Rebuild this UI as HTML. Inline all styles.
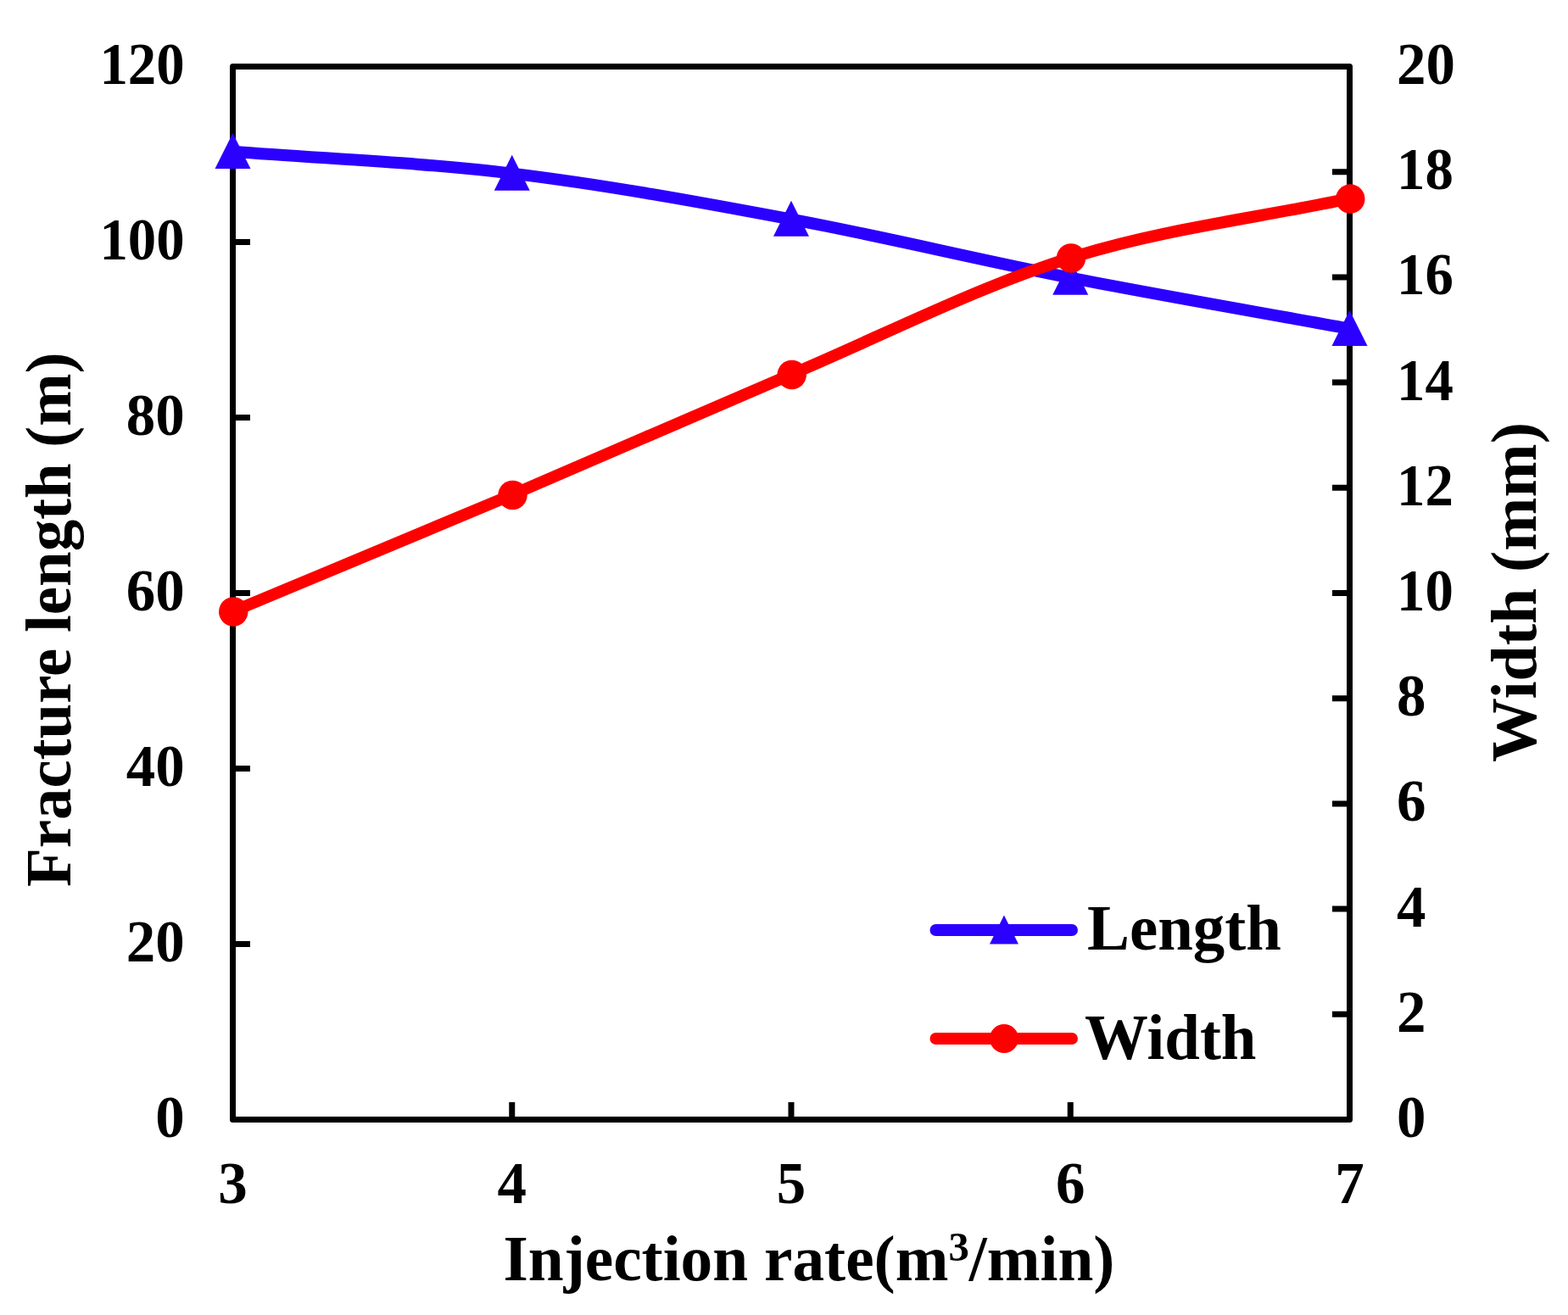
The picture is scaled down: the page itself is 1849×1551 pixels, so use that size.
<!DOCTYPE html><html><head><meta charset="utf-8"><style>html,body{margin:0;padding:0;background:#fff;overflow:hidden;}svg{display:block}text{font-family:"Liberation Serif","Times New Roman",serif;font-weight:bold;fill:#000}</style></head><body>
<svg width="1849" height="1551" viewBox="0 0 1849 1551">
<rect width="1849" height="1551" fill="#fff"/>
<rect x="274.5" y="78.5" width="1317.0" height="1242.0" fill="none" stroke="#000" stroke-width="7" stroke-linejoin="round"/>
<path d="M274.50 1320.5V1300.0M603.75 1320.5V1300.0M933.00 1320.5V1300.0M1262.25 1320.5V1300.0M1591.50 1320.5V1300.0M274.5 1320.50H295.0M274.5 1113.50H295.0M274.5 906.50H295.0M274.5 699.50H295.0M274.5 492.50H295.0M274.5 285.50H295.0M274.5 78.50H295.0M1591.5 1320.50H1571.0M1591.5 1196.30H1571.0M1591.5 1072.10H1571.0M1591.5 947.90H1571.0M1591.5 823.70H1571.0M1591.5 699.50H1571.0M1591.5 575.30H1571.0M1591.5 451.10H1571.0M1591.5 326.90H1571.0M1591.5 202.70H1571.0M1591.5 78.50H1571.0" stroke="#000" stroke-width="7" fill="none"/>
<path d="M274.50 178.80C384.25 187.40 494.00 191.30 603.75 204.60C713.50 217.90 823.25 238.10 933.00 258.60C1042.75 279.10 1152.50 306.08 1262.25 327.60C1372.00 349.12 1481.75 367.67 1591.50 387.70" fill="none" stroke="#2B00FF" stroke-width="14" stroke-linejoin="round" stroke-linecap="round"/>
<path d="M274.50 157.00L295.50 199.00L253.50 199.00Z" fill="#2B00FF"/>
<path d="M603.75 182.80L624.75 224.80L582.75 224.80Z" fill="#2B00FF"/>
<path d="M933.00 236.80L954.00 278.80L912.00 278.80Z" fill="#2B00FF"/>
<path d="M1262.25 305.80L1283.25 347.80L1241.25 347.80Z" fill="#2B00FF"/>
<path d="M1591.50 365.90L1612.50 407.90L1570.50 407.90Z" fill="#2B00FF"/>
<path d="M274.50 721.10C384.25 675.27 494.00 630.18 603.75 583.60C713.50 537.02 823.25 488.18 933.00 441.60C1042.75 395.02 1152.50 338.67 1262.25 304.10C1372.00 269.53 1481.75 257.50 1591.50 234.20" fill="none" stroke="#FF0000" stroke-width="14" stroke-linejoin="round" stroke-linecap="round"/>
<circle cx="275.25" cy="721.50" r="17.25" fill="#FF0000"/>
<circle cx="604.50" cy="584.00" r="17.25" fill="#FF0000"/>
<circle cx="933.75" cy="442.00" r="17.25" fill="#FF0000"/>
<circle cx="1263.00" cy="304.50" r="17.25" fill="#FF0000"/>
<circle cx="1592.25" cy="234.60" r="17.25" fill="#FF0000"/>
<path d="M1103.5 1097H1264" stroke="#2B00FF" stroke-width="14" stroke-linecap="round"/>
<path d="M1184.00 1079.60L1201.00 1113.60L1167.00 1113.60Z" fill="#2B00FF"/>
<path d="M1103.5 1225H1264" stroke="#FF0000" stroke-width="14" stroke-linecap="round"/>
<circle cx="1184" cy="1225" r="17" fill="#FF0000"/>
<text transform="translate(217.7 1341.00) scale(0.985 1)" font-size="70" text-anchor="end">0</text>
<text transform="translate(217.7 1134.00) scale(0.985 1)" font-size="70" text-anchor="end">20</text>
<text transform="translate(217.7 927.00) scale(0.985 1)" font-size="70" text-anchor="end">40</text>
<text transform="translate(217.7 720.00) scale(0.985 1)" font-size="70" text-anchor="end">60</text>
<text transform="translate(217.7 513.00) scale(0.985 1)" font-size="70" text-anchor="end">80</text>
<text transform="translate(217.7 306.00) scale(0.955 1)" font-size="70" text-anchor="end">100</text>
<text transform="translate(217.7 99.00) scale(0.955 1)" font-size="70" text-anchor="end">120</text>
<text transform="translate(1647 1341.00) scale(0.985 1)" font-size="70">0</text>
<text transform="translate(1647 1216.80) scale(0.985 1)" font-size="70">2</text>
<text transform="translate(1647 1092.60) scale(0.985 1)" font-size="70">4</text>
<text transform="translate(1647 968.40) scale(0.985 1)" font-size="70">6</text>
<text transform="translate(1647 844.20) scale(0.985 1)" font-size="70">8</text>
<text transform="translate(1647 720.00) scale(0.955 1)" font-size="70">10</text>
<text transform="translate(1647 595.80) scale(0.955 1)" font-size="70">12</text>
<text transform="translate(1647 471.60) scale(0.955 1)" font-size="70">14</text>
<text transform="translate(1647 347.40) scale(0.955 1)" font-size="70">16</text>
<text transform="translate(1647 223.20) scale(0.955 1)" font-size="70">18</text>
<text transform="translate(1647 99.00) scale(0.985 1)" font-size="70">20</text>
<text transform="translate(274.50 1419) scale(0.985 1)" font-size="70" text-anchor="middle">3</text>
<text transform="translate(603.75 1419) scale(0.985 1)" font-size="70" text-anchor="middle">4</text>
<text transform="translate(933.00 1419) scale(0.985 1)" font-size="70" text-anchor="middle">5</text>
<text transform="translate(1262.25 1419) scale(0.985 1)" font-size="70" text-anchor="middle">6</text>
<text transform="translate(1591.50 1419) scale(0.985 1)" font-size="70" text-anchor="middle">7</text>
<text transform="translate(593.46 1510) scale(0.986 1)" font-size="76.4">Injection rate(m<tspan font-size="49.4" dy="-23.5">3</tspan><tspan dy="23.5">/</tspan>min)</text>
<text transform="translate(83 1046) rotate(-90) scale(0.98 1)" font-size="76.4">Fracture length (m)</text>
<text transform="translate(1811 899) rotate(-90) scale(0.9925 1)" font-size="76.4">Width (mm)</text>
<text transform="translate(1282 1120.3) scale(0.98 1)" font-size="76.4">Length</text>
<text transform="translate(1279 1249.3) scale(0.98 1)" font-size="76.4">Width</text>
</svg></body></html>
